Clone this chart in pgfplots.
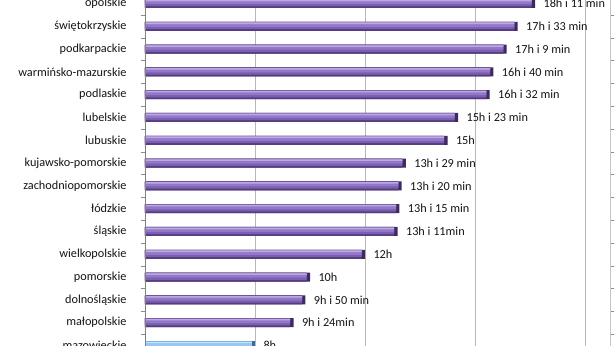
\documentclass[border=0pt]{standalone}
\usepackage{fontspec}
\setmainfont{Carlito}
\usepackage{pgfplots}
\usepackage{pgfplotstable}
\pgfplotsset{compat=1.18}
\definecolor{p1}{HTML}{563E82}
\definecolor{p2}{HTML}{7C5FB2}
\definecolor{p3}{HTML}{9378C8}
\definecolor{p4}{HTML}{BDAAE4}
\definecolor{pcap}{HTML}{3E2A62}
\definecolor{b1}{HTML}{4A7FB8}
\definecolor{b2}{HTML}{78B2E6}
\definecolor{b3}{HTML}{96C8F0}
\definecolor{b4}{HTML}{C8E4FA}
\definecolor{bcap}{HTML}{3A6A9E}
\pgfplotstableread[col sep=comma]{
i,v,lab,name
0,8,8h,mazowieckie
1,9.4,9h i 24min,małopolskie
2,9.833,9h i 50 min,dolnośląskie
3,10,10h,pomorskie
4,12,12h,wielkopolskie
5,13.183,13h i 11min,śląskie
6,13.25,13h i 15 min,łódzkie
7,13.333,13h i 20 min,zachodniopomorskie
8,13.483,13h i 29 min,kujawsko-pomorskie
9,15,15h,lubuskie
10,15.383,15h i 23 min,lubelskie
11,16.533,16h i 32 min,podlaskie
12,16.667,16h i 40 min,warmińsko-mazurskie
13,17.15,17h i 9 min,podkarpackie
14,17.55,17h i 33 min,świętokrzyskie
15,18.183,18h i 11 min,opolskie
}\data
\pgfplotsset{
  purp/.style={draw=none, skip coords between index={0}{1}},
  blu/.style={draw=none, skip coords between index={1}{16}},
  lay1/.style={bar width=9bp, bar shift=0bp},
  lay2/.style={bar width=7bp, bar shift=0.8bp},
  lay3/.style={bar width=4.2bp, bar shift=1.6bp},
  lay4/.style={bar width=1.6bp, bar shift=3bp},
}
\begin{document}
\begin{tikzpicture}
\begin{axis}[
  name=ax,
  scale only axis,
  width=465bp, height=364.8bp,
  xmin=4, xmax=20.909,
  ymin=-0.5, ymax=15.5,
  xtick={8,12,16,20}, xticklabels={},
  xmajorgrids,
  major grid style={color=black!28, line width=0.6pt},
  ytick={0,...,15},
  yticklabels from table={\data}{name},
  minor ytick={-0.5,0.5,...,15.5},
  major tick length=0pt,
  minor tick length=4bp,
  tick align=outside,
  minor tick style={black!45},
  axis line style={draw=none},
  yticklabel style={font=\fontsize{12.3}{14}\selectfont, text=black!92, xshift=-15bp},
  xbar,
  point meta=explicit symbolic,
  nodes near coords style={font=\fontsize{12.3}{14}\selectfont, text=black!92, anchor=west, xshift=5bp},
]
% purple bars
\addplot[purp, lay1, fill=pcap, nodes near coords] table[x=v, y=i, meta=lab] {\data};
\addplot[purp, lay1, fill=p1] table[x expr=\thisrow{v}-0.12, y=i] {\data};
\addplot[purp, lay2, fill=p2] table[x expr=\thisrow{v}-0.12, y=i] {\data};
\addplot[purp, lay3, fill=p3] table[x expr=\thisrow{v}-0.12, y=i] {\data};
\addplot[purp, lay4, fill=p4] table[x expr=\thisrow{v}-0.12, y=i] {\data};
% blue bar
\addplot[blu, lay1, fill=bcap, nodes near coords] table[x=v, y=i, meta=lab] {\data};
\addplot[blu, lay1, fill=b1] table[x expr=\thisrow{v}-0.12, y=i] {\data};
\addplot[blu, lay2, fill=b2] table[x expr=\thisrow{v}-0.12, y=i] {\data};
\addplot[blu, lay3, fill=b3] table[x expr=\thisrow{v}-0.12, y=i] {\data};
\addplot[blu, lay4, fill=b4] table[x expr=\thisrow{v}-0.12, y=i] {\data};
\end{axis}
\draw[black!50, line width=0.6pt] (ax.south west) -- (ax.north west);
\draw[black!22, line width=0.6pt] (ax.south east) -- (ax.north east);
\pgfresetboundingbox
\useasboundingbox ([xshift=-145bp, yshift=10.9bp]ax.south west) rectangle ([xshift=470bp, yshift=-7.9bp]ax.north west);
\end{tikzpicture}
\end{document}
